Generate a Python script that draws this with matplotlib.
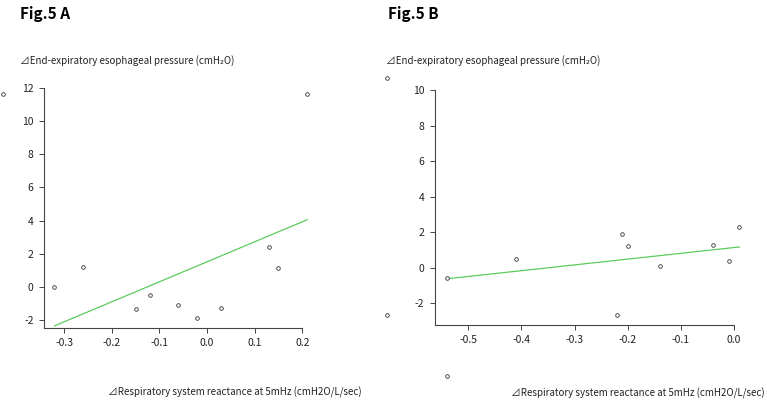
import matplotlib
matplotlib.use("Agg")
import matplotlib.pyplot as plt

plt.rcParams['font.family'] = ['Noto Sans CJK JP', 'DejaVu Sans']

# Panel A data
a_x = [-0.32, -0.26, -0.15, -0.12, -0.06, -0.02, 0.03, 0.13, 0.15, 0.21, -0.427]
a_y = [0.0, 1.2, -1.36, -0.5, -1.1, -1.88, -1.3, 2.43, 1.12, 11.66, 11.66]
a_fit_x = [-0.32, 0.21]
a_fit_y = [-2.35, 4.05]
a_xticks = [-0.3, -0.2, -0.1, 0.0, 0.1, 0.2]
a_yticks = [-2, 0, 2, 4, 6, 8, 10, 12]

# Panel B data
b_x = [-0.54, -0.41, -0.21, -0.20, -0.22, -0.14, -0.04, -0.01, 0.01, -0.653, -0.54, -0.653]
b_y = [-0.6, 0.5, 1.9, 1.2, -2.68, 0.1, 1.3, 0.4, 2.3, -2.68, -6.1, 10.7]
b_fit_x = [-0.54, 0.01]
b_fit_y = [-0.62, 1.17]
b_xticks = [-0.5, -0.4, -0.3, -0.2, -0.1, 0.0]
b_yticks = [-2, 0, 2, 4, 6, 8, 10]

ylab = "⊿End-expiratory esophageal pressure (cmH₂O)"
xlab = "⊿Respiratory system reactance at 5mHz (cmH2O/L/sec)"

fig = plt.figure(figsize=(7.67, 4.0), dpi=100)
W, H = 767, 400

def make_ax(l, r, t, b):
    return fig.add_axes([l / W, 1 - b / H, (r - l) / W, (b - t) / H])

def style(ax, xticks, yticks, xlim, ylim):
    ax.set_xlim(*xlim)
    ax.set_ylim(*ylim)
    ax.set_xticks(xticks)
    ax.set_yticks(yticks)
    ax.set_xticklabels([f"{v:.1f}" for v in xticks])
    ax.set_yticklabels([str(v) for v in yticks])
    for s in ['top', 'right']:
        ax.spines[s].set_visible(False)
    for s in ['left', 'bottom']:
        ax.spines[s].set_color('#444444')
        ax.spines[s].set_linewidth(0.8)
    ax.tick_params(axis='both', labelsize=7.5, length=3.5, width=0.7,
                   color='#444444', labelcolor='#222222', pad=4)
    ax.patch.set_alpha(0)

axA = make_ax(44, 302.3, 88, 327.7)
style(axA, a_xticks, a_yticks, (-0.342, 0.2), (-2.46, 12))
axA.plot(a_fit_x, a_fit_y, color='#5ccc5c', lw=0.9, clip_on=False)
axA.plot(a_x, a_y, 'o', ms=2.6, mfc='white', mec='#333333', mew=0.6, clip_on=False)

axB = make_ax(434.7, 734, 90, 325)
style(axB, b_xticks, b_yticks, (-0.563, 0.0), (-3.22, 10))
axB.plot(b_fit_x, b_fit_y, color='#5ccc5c', lw=0.9, clip_on=False)
axB.plot(b_x, b_y, 'o', ms=2.6, mfc='white', mec='#333333', mew=0.6, clip_on=False)

fig.text(20 / W, 1 - 14 / H, "Fig.5 A", fontsize=11, fontweight='bold', va='center', ha='left')
fig.text(388 / W, 1 - 14 / H, "Fig.5 B", fontsize=11, fontweight='bold', va='center', ha='left')
fig.text(20 / W, 1 - 61 / H, ylab, fontsize=7, va='center', ha='left', color='#222222')
fig.text(386 / W, 1 - 61 / H, ylab, fontsize=7, va='center', ha='left', color='#222222')
fig.text(362 / W, 1 - 392 / H, xlab, fontsize=7, va='center', ha='right', color='#222222')
fig.text(765 / W, 1 - 393 / H, xlab, fontsize=7, va='center', ha='right', color='#222222')

fig.savefig("out.png", dpi=100)
